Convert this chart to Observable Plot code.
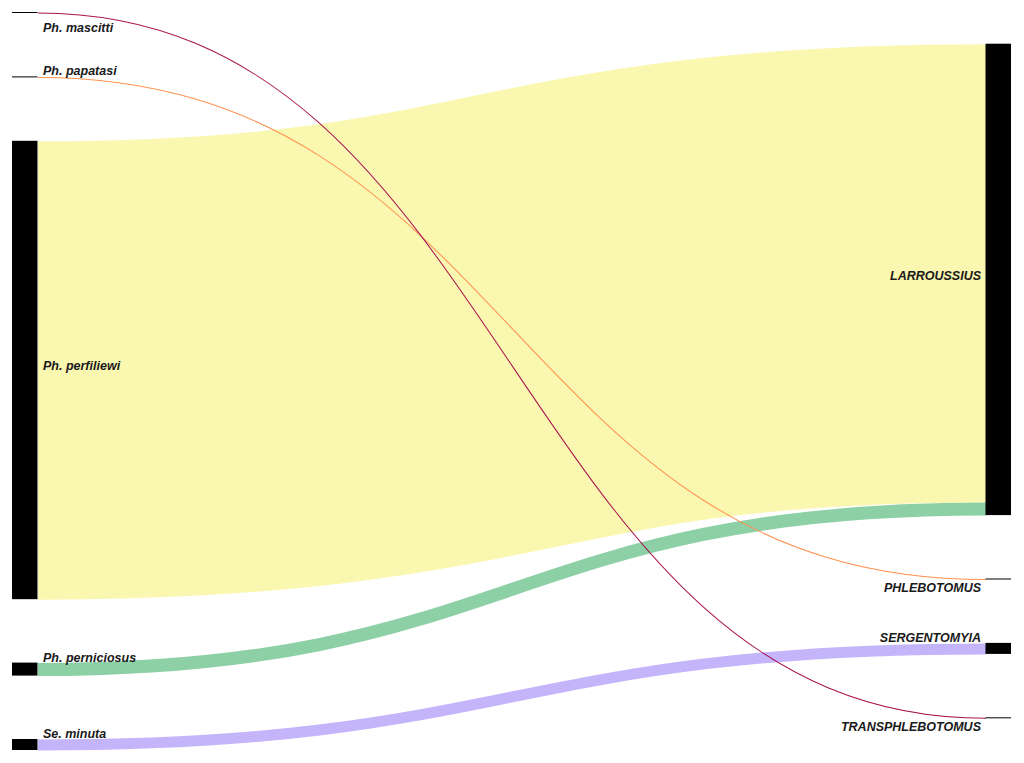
<!DOCTYPE html>
<html><head><meta charset="utf-8">
<script src="https://cdn.jsdelivr.net/npm/d3@7"></script>
<script src="https://cdn.jsdelivr.net/npm/@observablehq/plot@0.6"></script>
<style>html,body{margin:0;padding:0;background:#fff} svg{display:block}</style>
</head><body><div id="chart"></div>
<script>
// ---- data ----
const sources = ["Ph. mascitti", "Ph. papatasi", "Ph. perfiliewi", "Ph. perniciosus", "Se. minuta"];
const targets = ["LARROUSSIUS", "PHLEBOTOMUS", "SERGENTOMYIA", "TRANSPHLEBOTOMUS"];
const linkSource = ["Ph. perfiliewi", "Ph. perniciosus", "Se. minuta", "Ph. papatasi", "Ph. mascitti"];
const linkTarget = ["LARROUSSIUS", "LARROUSSIUS", "SERGENTOMYIA", "PHLEBOTOMUS", "TRANSPHLEBOTOMUS"];
const linkValue = [458, 13, 11, 1, 1];

// ---- styles ----
const linkColors = ["#faf7b0", "#8dd0a6", "#c4b5fb", "#ff9150", "#a8124f"];
const sourceLabelPlacement = ["below", "above", "middle", "above", "above"];
const targetLabelPlacement = ["middle", "below", "above", "below"];

// ---- layout (sankey, computed) ----
const W = 1024, H = 763, mt = 12, mb = 13, ml = 12, mr = 13;
const innerH = H - mt - mb, innerW = W - ml - mr;
const nodePad = 63.4, nodeW = 25.5;
const columns = [sources, targets];
const placements = [sourceLabelPlacement, targetLabelPlacement];
const links = linkSource.map((s, i) => ({source: s, target: linkTarget[i], value: linkValue[i]}));
const nodeValue = new Map();
for (const l of links) {
  nodeValue.set(l.source, (nodeValue.get(l.source) || 0) + l.value);
  nodeValue.set(l.target, (nodeValue.get(l.target) || 0) + l.value);
}
const ky = d3.min(columns, c => (innerH - (c.length - 1) * nodePad) / d3.sum(c, n => nodeValue.get(n)));
const padU = nodePad / ky, Hu = innerH / ky, nwU = nodeW / innerW;
const nodes = [];
columns.forEach((col, ci) => {
  const total = d3.sum(col, n => nodeValue.get(n)) + (col.length - 1) * padU;
  let y = (Hu - total) / 2;
  col.forEach((name, i) => {
    const v = nodeValue.get(name);
    nodes.push({name, col: ci, x0: ci === 0 ? 0 : 1 - nwU, x1: ci === 0 ? nwU : 1,
      y0: y, y1: y + v, ym: y + v / 2, place: placements[ci][i]});
    y += v + padU;
  });
});
const byName = new Map(nodes.map(n => [n.name, n]));
for (const n of nodes) {
  const outs = links.filter(l => l.source === n.name).sort((a, b) => byName.get(a.target).y0 - byName.get(b.target).y0);
  let y = n.y0;
  for (const l of outs) { l.ys = y + l.value / 2; y += l.value; }
  const ins = links.filter(l => l.target === n.name).sort((a, b) => byName.get(a.source).y0 - byName.get(b.source).y0);
  y = n.y0;
  for (const l of ins) { l.yt = y + l.value / 2; y += l.value; }
}
links.forEach(l => { l.width = l.value * ky; });

const font = {fontFamily: "'Liberation Sans', Arial, sans-serif", fontSize: 12.5, fontWeight: "bold", fontStyle: "italic", fill: "#1a1a1a", lineAnchor: "bottom"};
const labelMark = (col, place, yKey, dy) => Plot.text(nodes.filter(n => n.col === col && n.place === place), {
  x: col === 0 ? "x1" : "x0", y: yKey, text: "name", dx: col === 0 ? 5 : -5, dy,
  textAnchor: col === 0 ? "start" : "end", ...font
});

const chart = Plot.plot({
  width: W, height: H, marginTop: mt, marginBottom: mb, marginLeft: ml, marginRight: mr,
  x: {domain: [0, 1], axis: null},
  y: {domain: [0, Hu], range: [mt, H - mb], axis: null},
  color: {domain: linkSource, range: linkColors},
  marks: [
    Plot.link(links, {x1: () => nwU, y1: "ys", x2: () => 1 - nwU, y2: "yt", curve: "bump-x",
      stroke: "source", strokeWidth: "width", strokeOpacity: 1}),
    Plot.rect(nodes, {x1: "x0", x2: "x1", y1: "y0", y2: "y1", fill: "#000"}),
    labelMark(0, "middle", "ym", 0),
    labelMark(0, "above", "y0", -1.5),
    labelMark(0, "below", "y1", 18),
    labelMark(1, "middle", "ym", 0),
    labelMark(1, "above", "y0", -1.5),
    labelMark(1, "below", "y1", 12.5)
  ]
});
document.getElementById("chart").appendChild(chart);
</script>
</body></html>
